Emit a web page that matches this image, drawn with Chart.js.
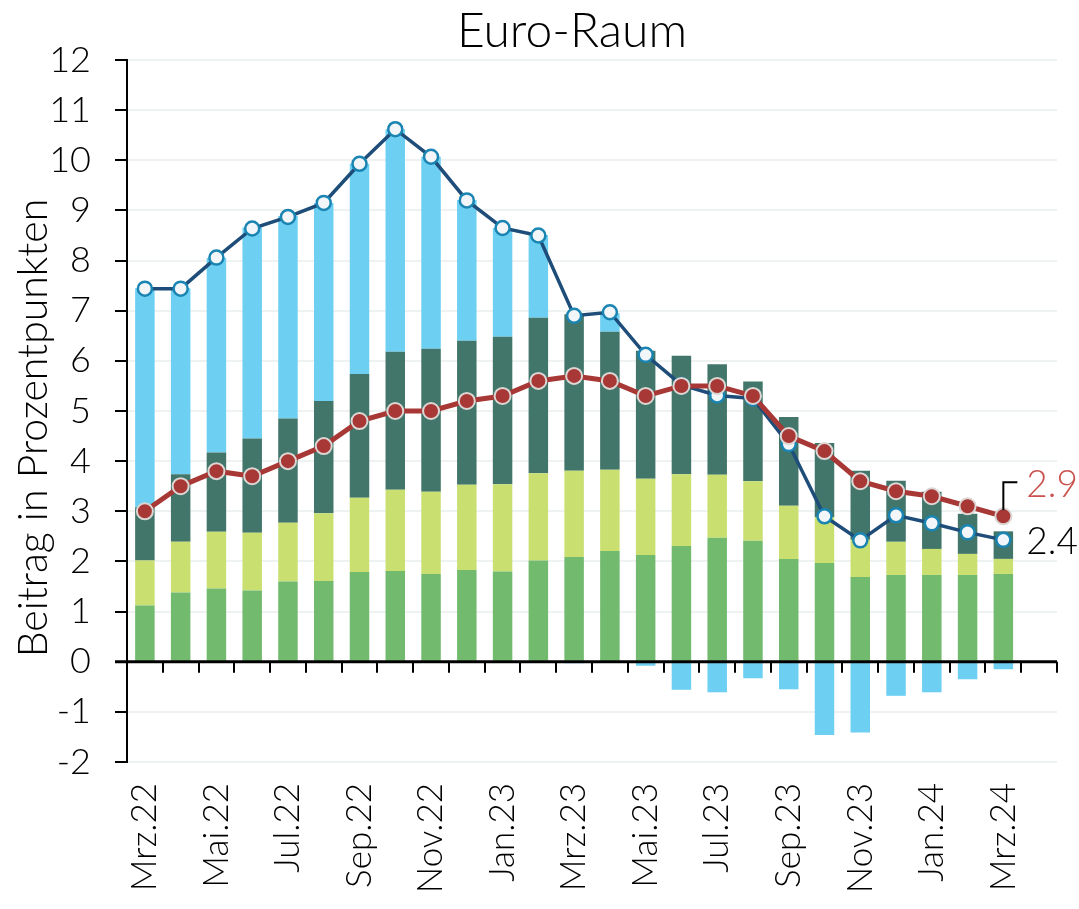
<!DOCTYPE html>
<html lang="de">
<head>
<meta charset="utf-8">
<title>Euro-Raum</title>
<script src="https://cdn.jsdelivr.net/npm/chart.js@4.4.1/dist/chart.umd.min.js"></script>
<style>
  html, body { margin: 0; padding: 0; background: #fff; }
  #wrap { width: 1079px; height: 909px; }
</style>
</head>
<body>
<div id="wrap"><canvas id="hvpiChart" width="1079" height="909"></canvas></div>
<script>
// Monate (letzter Platz bleibt leer)
const monate = ['Mrz.22', 'Apr.22', 'Mai.22', 'Jun.22', 'Jul.22', 'Aug.22', 'Sep.22', 'Okt.22', 'Nov.22', 'Dez.22',
    'Jan.23', 'Feb.23', 'Mrz.23', 'Apr.23', 'Mai.23', 'Jun.23', 'Jul.23', 'Aug.23', 'Sep.23', 'Okt.23', 'Nov.23', 'Dez.23',
    'Jan.24', 'Feb.24', 'Mrz.24', ''];

// Beiträge in Prozentpunkten
const dienstleistungen = [1.12, 1.38, 1.46, 1.42, 1.60, 1.61, 1.79, 1.81, 1.75, 1.83, 1.80, 2.02, 2.09, 2.21, 2.13, 2.31, 2.47, 2.41, 2.05, 1.97, 1.69, 1.73, 1.73, 1.73, 1.75];
const industriegueter = [0.90, 1.01, 1.13, 1.15, 1.17, 1.35, 1.48, 1.62, 1.64, 1.70, 1.74, 1.74, 1.72, 1.62, 1.52, 1.43, 1.26, 1.19, 1.06, 0.91, 0.74, 0.66, 0.52, 0.42, 0.30];
const nahrungsmittel = [1.06, 1.35, 1.58, 1.88, 2.08, 2.24, 2.47, 2.75, 2.85, 2.87, 2.94, 3.10, 3.12, 2.75, 2.55, 2.36, 2.20, 1.99, 1.77, 1.48, 1.38, 1.22, 1.14, 0.80, 0.55];
const energie = [4.37, 3.71, 3.88, 4.21, 4.04, 3.95, 4.19, 4.44, 3.83, 2.81, 2.17, 1.65, -0.03, 0.37, -0.08, -0.56, -0.61, -0.33, -0.55, -1.46, -1.41, -0.68, -0.61, -0.35, -0.15];

// Inflationsraten
const gesamt = [7.44, 7.44, 8.06, 8.64, 8.87, 9.15, 9.93, 10.62, 10.07, 9.20, 8.65, 8.50, 6.90, 6.97, 6.12, 5.52, 5.31, 5.25, 4.34, 2.90, 2.42, 2.92, 2.76, 2.58, 2.43];
const kern = [3.0, 3.5, 3.8, 3.7, 4.0, 4.3, 4.8, 5.0, 5.0, 5.2, 5.3, 5.6, 5.7, 5.6, 5.3, 5.5, 5.5, 5.3, 4.5, 4.2, 3.6, 3.4, 3.3, 3.1, 2.9];

const yTicks = { min: -2, max: 12, step: 1 };
const labelGesamt = '2.4';
const labelKern = '2.9';

const FONT = "Lato, 'Open Sans', sans-serif";

// Nulllinie mit Teilstrichen zwischen den Monaten
const nullLinie = {
    id: 'nullLinie',
    afterDatasetsDraw(chart) {
        const { ctx, chartArea, scales } = chart;
        const y0 = scales.y.getPixelForValue(0);
        const step = scales.x.getPixelForValue(1) - scales.x.getPixelForValue(0);
        ctx.save();
        ctx.strokeStyle = '#000';
        ctx.lineWidth = 3;
        ctx.beginPath();
        ctx.moveTo(chartArea.left - 12, y0);
        ctx.lineTo(chartArea.right, y0);
        ctx.stroke();
        ctx.lineWidth = 2;
        for (let i = 0; i <= monate.length; i++) {
            const px = Math.round(scales.x.getPixelForValue(0) - step / 2 + i * step);
            ctx.beginPath();
            ctx.moveTo(px, y0);
            ctx.lineTo(px, y0 + 11);
            ctx.stroke();
        }
        ctx.restore();
    }
};

// Titel, Achsentitel und Endwerte
const beschriftung = {
    id: 'beschriftung',
    afterDraw(chart) {
        const { ctx, scales } = chart;
        ctx.save();
        ctx.fillStyle = '#000';
        ctx.font = `300 48px ${FONT}`;
        ctx.textAlign = 'center';
        ctx.textBaseline = 'alphabetic';
        ctx.fillText('Euro-Raum', 572, 47);

        ctx.translate(34, 428);
        ctx.rotate(-Math.PI / 2);
        ctx.font = `300 41px ${FONT}`;
        ctx.textBaseline = 'middle';
        ctx.fillText('Beitrag in Prozentpunkten', 0, 0);
        ctx.restore();

        const last = kern.length - 1;
        const px = scales.x.getPixelForValue(last);
        const pyKern = scales.y.getPixelForValue(kern[last]);
        const pyGes = scales.y.getPixelForValue(gesamt[last]);

        ctx.save();
        ctx.strokeStyle = '#000';
        ctx.lineWidth = 2;
        ctx.beginPath();
        ctx.moveTo(px, pyKern - 6);
        ctx.lineTo(px, pyKern - 34);
        ctx.lineTo(px + 14, pyKern - 34);
        ctx.stroke();

        ctx.font = `300 37px ${FONT}`;
        ctx.textAlign = 'left';
        ctx.textBaseline = 'middle';
        ctx.fillStyle = '#C9504C';
        ctx.fillText(labelKern, px + 23, pyKern - 31);
        ctx.fillStyle = '#000';
        ctx.fillText(labelGesamt, px + 23, pyGes + 2);
        ctx.restore();
    }
};

const balken = (label, data, color) => ({
    type: 'bar',
    label: label,
    data: data,
    backgroundColor: color,
    borderWidth: 0,
    barPercentage: 0.545,
    categoryPercentage: 1,
    stack: 'beitrag',
    order: 2
});

new Chart(document.getElementById('hvpiChart'), {
    data: {
        labels: monate,
        datasets: [
            balken('Dienstleistungen', dienstleistungen, '#72BA6E'),
            balken('Industriegüter', industriegueter, '#C9E071'),
            balken('Nahrungsmittel', nahrungsmittel, '#42766A'),
            balken('Energie', energie, '#6DCFF2'),
            {
                type: 'line',
                label: 'HVPI',
                data: gesamt,
                stack: 'hvpi',
                borderColor: '#1D4D78',
                borderWidth: 3.5,
                pointRadius: 7,
                pointBackgroundColor: '#F2F6F8',
                pointBorderColor: '#1A84B2',
                pointBorderWidth: 2.5,
                tension: 0,
                order: 1
            },
            {
                type: 'line',
                label: 'Kerninflation',
                data: kern,
                stack: 'kern',
                borderColor: '#A83835',
                borderWidth: 5,
                pointRadius: 8,
                pointBackgroundColor: '#A83835',
                pointBorderColor: '#DCD6D4',
                pointBorderWidth: 2,
                tension: 0,
                order: 0
            }
        ]
    },
    options: {
        responsive: false,
        animation: false,
        layout: { padding: { top: 60, right: 0, left: 0, bottom: 0 } },
        plugins: {
            legend: { display: false },
            title: { display: false },
            tooltip: { enabled: false }
        },
        scales: {
            x: {
                stacked: true,
                offset: true,
                grid: { display: false, drawTicks: false },
                border: { display: false },
                ticks: {
                    autoSkip: false,
                    minRotation: 90,
                    maxRotation: 90,
                    padding: 21,
                    color: '#000',
                    font: { family: FONT, size: 35, weight: '300' },
                    callback: (value, index) => (index % 2 === 0 ? monate[index] : '')
                },
                afterFit: scale => {
                    scale.height = 147;
                    scale.paddingRight = 22;
                }
            },
            y: {
                stacked: true,
                min: yTicks.min,
                max: yTicks.max,
                ticks: {
                    stepSize: yTicks.step,
                    padding: 24,
                    color: '#000',
                    font: { family: FONT, size: 36, weight: '300' }
                },
                grid: {
                    color: ctx => (ctx.tick && ctx.tick.value === 0 ? 'rgba(0,0,0,0)' : '#EEF3F1'),
                    lineWidth: 2,
                    tickColor: '#000',
                    tickLength: 12,
                    tickWidth: 2
                },
                border: { display: true, color: '#000', width: 2 },
                afterFit: scale => { scale.width = 127; }
            }
        }
    },
    plugins: [nullLinie, beschriftung]
});
</script>
</body>
</html>
